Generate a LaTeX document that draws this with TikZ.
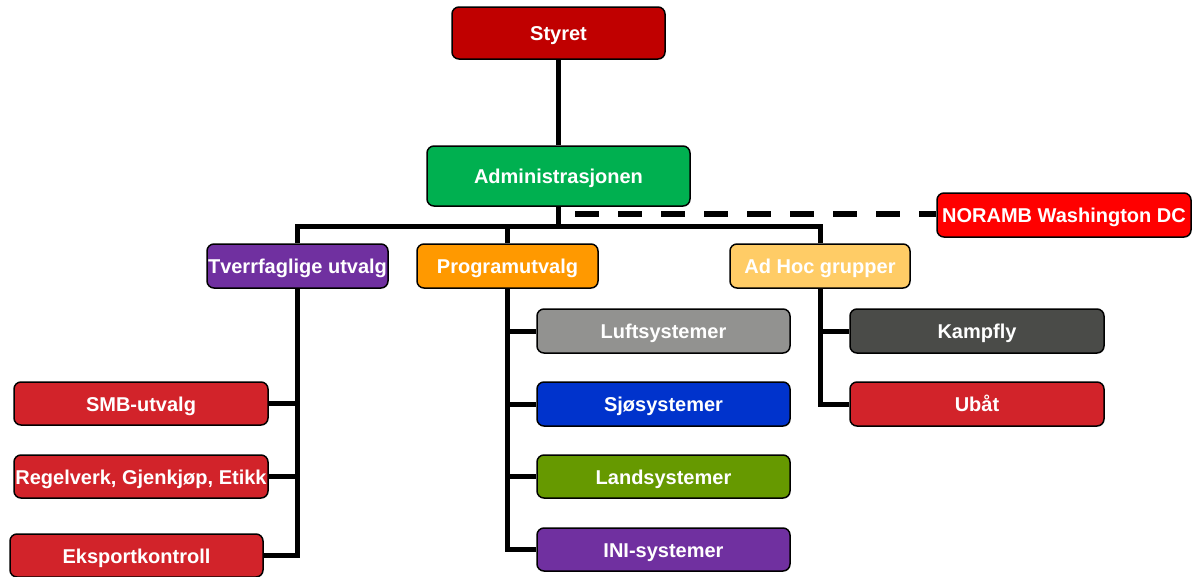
\documentclass[tikz,border=0pt]{standalone}
\usepackage{fontspec}
\setmainfont{Liberation Sans}
\definecolor{cStyret}{HTML}{C00000}
\definecolor{cAdmin}{HTML}{00B050}
\definecolor{cNor}{HTML}{FF0000}
\definecolor{cPurple}{HTML}{7030A0}
\definecolor{cProg}{HTML}{FF9900}
\definecolor{cAdHoc}{HTML}{FFCC66}
\definecolor{cLuft}{HTML}{929290}
\definecolor{cSjo}{HTML}{0033CC}
\definecolor{cLand}{HTML}{669900}
\definecolor{cKamp}{HTML}{4A4B48}
\definecolor{cRed}{HTML}{D2232A}
\begin{document}
\begin{tikzpicture}[x=1pt,y=-1pt,
  orgbox/.style={draw=black, line width=1.5pt, rounded corners=7pt, inner sep=0pt,
     text height=19pt, text depth=4pt,
     text=white, font=\fontsize{20}{24}\selectfont\bfseries, align=center},
  conn/.style={line width=5pt, black},
  dashconn/.style={line width=6pt, black, dash pattern=on 24pt off 19pt}]
\useasboundingbox (0,0) rectangle (1192,576);
\node[orgbox, fill=cStyret, minimum width=213pt, minimum height=52pt] (styret) at (558.5,33) {Styret};
\node[orgbox, fill=cAdmin, minimum width=263pt, minimum height=60pt] (admin) at (558.5,176) {Administrasjonen};
\node[orgbox, fill=cNor, minimum width=254pt, minimum height=44pt] (nor) at (1064,215) {NORAMB Washington DC};
\node[orgbox, fill=cPurple, minimum width=181pt, minimum height=44pt] (tverr) at (297.5,266) {Tverrfaglige utvalg};
\node[orgbox, fill=cProg, minimum width=181pt, minimum height=44pt] (prog) at (507.5,266) {Programutvalg};
\node[orgbox, fill=cAdHoc, minimum width=180pt, minimum height=44pt] (adhoc) at (820,266) {Ad Hoc grupper};
\node[orgbox, fill=cLuft, minimum width=253pt, minimum height=44pt] (luft) at (663.5,331) {Luftsystemer};
\node[orgbox, fill=cSjo, minimum width=253pt, minimum height=44pt] (sjo) at (663.5,404) {Sjøsystemer};
\node[orgbox, fill=cLand, minimum width=253pt, minimum height=43pt] (land) at (663.5,476.5) {Landsystemer};
\node[orgbox, fill=cPurple, minimum width=253pt, minimum height=43pt] (ini) at (663.5,549.5) {INI-systemer};
\node[orgbox, fill=cKamp, minimum width=254pt, minimum height=44pt] (kamp) at (977,331) {Kampfly};
\node[orgbox, fill=cRed, minimum width=254pt, minimum height=44pt] (ubat) at (977,404) {Ubåt};
\node[orgbox, fill=cRed, minimum width=254pt, minimum height=43pt] (smb) at (141,403.5) {SMB-utvalg};
\node[orgbox, fill=cRed, minimum width=254pt, minimum height=43pt] (regel) at (141,476.5) {Regelverk, Gjenkjøp, Etikk};
\node[orgbox, fill=cRed, minimum width=253pt, minimum height=43pt] (eksp) at (136.5,555.5) {Eksportkontroll};
\coordinate (bus) at (558.5,226);
\coordinate (dstart) at (575,214);
\draw[conn] (styret.south) -- (admin.north);
\draw[conn] (admin.south) -- (bus);
\draw[conn] (tverr.north) |- (bus);
\draw[conn] (adhoc.north) |- (bus);
\draw[conn] (prog.north) -- (prog.north |- bus);
\draw[dashconn] (dstart) -- (nor.west |- dstart);
\draw[conn] (tverr.south) |- (smb.east);
\draw[conn] (tverr.south) |- (regel.east);
\draw[conn] (tverr.south) |- (eksp.east);
\draw[conn] (prog.south) |- (luft.west);
\draw[conn] (prog.south) |- (sjo.west);
\draw[conn] (prog.south) |- (land.west);
\draw[conn] (prog.south) |- (ini.west);
\draw[conn] (adhoc.south) |- (kamp.west);
\draw[conn] (adhoc.south) |- (ubat.west);
\end{tikzpicture}
\end{document}
